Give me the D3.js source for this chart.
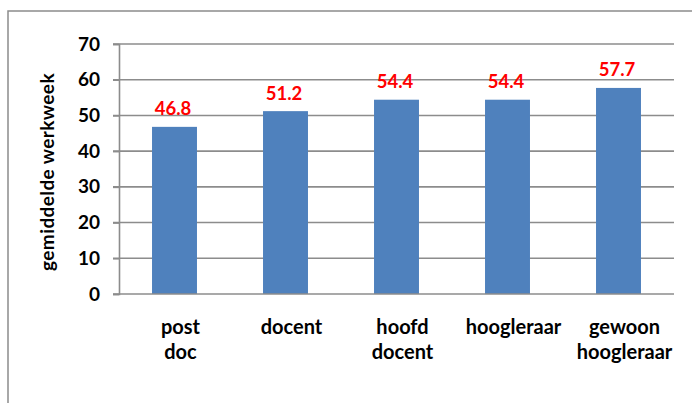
<!DOCTYPE html>
<html><head><meta charset="utf-8">
<script src="https://cdn.jsdelivr.net/npm/d3@7"></script>
<style>body{margin:0;background:#fff}svg{display:block}text{font-family:Lato,"Open Sans",sans-serif;font-weight:bold}</style>
</head><body><svg id="c" width="692" height="403"></svg>
<script>
const categories = [["post","doc"],["docent"],["hoofd","docent"],["hoogleraar"],["gewoon","hoogleraar"]];
const values = [46.8, 51.2, 54.4, 54.4, 57.7];
const yTicks = [0,10,20,30,40,50,60,70];
const yTitle = "gemiddelde werkweek";

const svg = d3.select("#c");
const m = {l:119, r:674, t:44, b:294};
svg.append("rect").attr("x",8).attr("y",11).attr("width",700).attr("height",420)
  .attr("fill","#fff").attr("stroke","#8c8c8c").attr("stroke-width",1.5);

const x = d3.scaleBand().domain(d3.range(values.length)).range([m.l,m.r]).paddingInner(0.595).paddingOuter(0.2975);
const y = d3.scaleLinear().domain([0,70]).range([m.b,m.t]);

// gridlines
svg.append("g").selectAll("line").data(yTicks.filter(d=>d>0)).join("line")
  .attr("x1",m.l-6).attr("x2",m.r).attr("y1",d=>y(d)).attr("y2",d=>y(d))
  .attr("stroke","#8c8c8c").attr("stroke-width",1.6);

// y axis
const ya = svg.append("g").attr("transform",`translate(${m.l},0)`)
  .call(d3.axisLeft(y).tickValues(yTicks).tickSize(6).tickPadding(13));
ya.select(".domain").attr("stroke","#8c8c8c").attr("stroke-width",1.6);
ya.selectAll(".tick line").attr("stroke","#8c8c8c").attr("stroke-width",1.6);
ya.selectAll(".tick text").attr("font-size",19).attr("font-family","Lato").attr("font-weight","bold").attr("fill","#000");

// bars
svg.append("g").selectAll("rect").data(values).join("rect")
  .attr("x",(d,i)=>x(i)).attr("width",x.bandwidth())
  .attr("y",d=>y(d)).attr("height",d=>m.b-y(d)).attr("fill","#4F81BD");

// x axis baseline
svg.append("line").attr("x1",m.l-6).attr("x2",m.r).attr("y1",m.b).attr("y2",m.b)
  .attr("stroke","#8c8c8c").attr("stroke-width",1.6);

// value labels
svg.append("g").selectAll("text").data(values).join("text")
  .attr("x",(d,i)=>x(i)+x.bandwidth()/2-1.5).attr("y",d=>y(d)-11.5)
  .attr("text-anchor","middle").attr("font-size",18.5).attr("fill","#FF0000")
  .text(d=>d.toFixed(1));

// category labels
const cl = svg.append("g").selectAll("text").data(categories).join("text")
  .attr("text-anchor","middle").attr("font-size",20).attr("fill","#000")
  .attr("transform",(d,i)=>`translate(${x(i)+x.bandwidth()/2+6},${m.b+40})`);
cl.selectAll("tspan").data(d=>d).join("tspan")
  .attr("x",0).attr("y",(d,j)=>j*25).text(d=>d);

// y title
svg.append("text").attr("transform","translate(54,172) rotate(-90)")
  .attr("text-anchor","middle").attr("font-size",19).attr("letter-spacing",0.4).attr("fill","#000").text(yTitle);
</script></body></html>
